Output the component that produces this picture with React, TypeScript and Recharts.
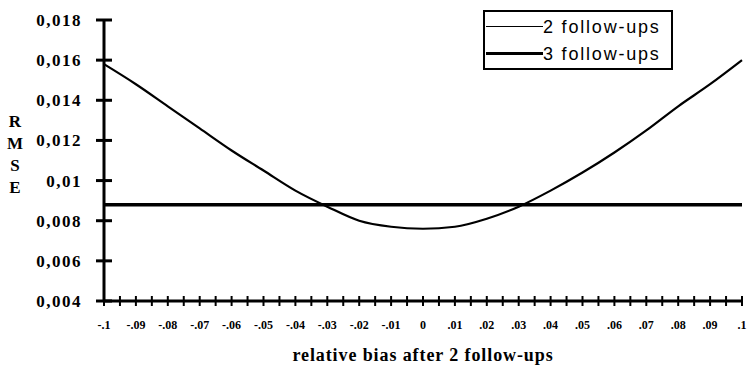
import React from "react";
import { LineChart, Line, XAxis, YAxis, Legend } from "recharts";

const bias = [-0.1, -0.09, -0.08, -0.07, -0.06, -0.05, -0.04, -0.03, -0.02, -0.01, 0, 0.01, 0.02, 0.03, 0.04, 0.05, 0.06, 0.07, 0.08, 0.09, 0.1];
const biasLabels = ["-.1", "-.09", "-.08", "-.07", "-.06", "-.05", "-.04", "-.03", "-.02", "-.01", "0", ".01", ".02", ".03", ".04", ".05", ".06", ".07", ".08", ".09", ".1"];
const rmse2 = [0.0158, 0.0148, 0.0137, 0.0126, 0.0115, 0.0105, 0.0095, 0.0087, 0.008, 0.0077, 0.0076, 0.0077, 0.0081, 0.0087, 0.0095, 0.0104, 0.0114, 0.0125, 0.0137, 0.0148, 0.016];
const rmse3 = [0.0088, 0.0088, 0.0088, 0.0088, 0.0088, 0.0088, 0.0088, 0.0088, 0.0088, 0.0088, 0.0088, 0.0088, 0.0088, 0.0088, 0.0088, 0.0088, 0.0088, 0.0088, 0.0088, 0.0088, 0.0088];
const yTicks = [0.004, 0.006, 0.008, 0.01, 0.012, 0.014, 0.016, 0.018];

const data = bias.map((b, i) => ({ bias: b, two: rmse2[i], three: rmse3[i] }));

// minor ticks halfway between the labelled ones
const xTicks: number[] = [];
bias.forEach((b, i) => {
  xTicks.push(b);
  if (i < bias.length - 1) xTicks.push(Math.round(((b + bias[i + 1]) / 2) * 1000) / 1000);
});

const serif = "'Liberation Serif', 'DejaVu Serif', serif";
const sans = "'Liberation Sans', Arial, sans-serif";

const XTick = (props: any) => {
  const { x, y, payload } = props;
  const idx = bias.findIndex((b) => Math.abs(b - payload.value) < 1e-9);
  return (
    <g>
      <line x1={x} x2={x} y1={y - 5} y2={y + 5} stroke="#000" strokeWidth={2} />
      {idx >= 0 && (
        <text x={x} y={y + 28} textAnchor="middle" fontFamily={serif} fontWeight="bold" fontSize={12} fill="#000">
          {biasLabels[idx]}
        </text>
      )}
    </g>
  );
};

const YTick = (props: any) => {
  const { x, y, payload } = props;
  return (
    <g>
      <line x1={x - 8} x2={x + 8} y1={y} y2={y} stroke="#000" strokeWidth={3} />
      <text x={x - 22} y={y + 6} textAnchor="end" fontFamily={serif} fontWeight="bold" fontSize={17} letterSpacing={1.5} fill="#000">
        {String(payload.value).replace(".", ",")}
      </text>
    </g>
  );
};

const LegendBox = () => (
  <div
    style={{
      border: "2px solid #000",
      width: 190,
      height: 60,
      background: "#fff",
      fontFamily: sans,
      fontSize: 18,
      letterSpacing: 1.8,
      color: "#000",
      boxSizing: "border-box",
      padding: "1px 0 0 1px",
      lineHeight: 1,
    }}
  >
    <div style={{ display: "flex", alignItems: "center", height: 27 }}>
      <span style={{ display: "inline-block", width: 57, borderTop: "1.5px solid #000" }} />
      <span>2 follow-ups</span>
    </div>
    <div style={{ display: "flex", alignItems: "center", height: 27 }}>
      <span style={{ display: "inline-block", width: 57, borderTop: "3.5px solid #000" }} />
      <span>3 follow-ups</span>
    </div>
  </div>
);

export default function App() {
  return (
    <div style={{ position: "absolute", left: 0, top: 0, width: 748, height: 366, background: "#fff" }}>
      <LineChart width={748} height={366} data={data} margin={{ top: 20, right: 6, bottom: 0, left: 0 }}>
        <XAxis
          dataKey="bias"
          type="number"
          domain={[-0.1, 0.1]}
          ticks={xTicks}
          interval={0}
          tick={<XTick />}
          tickLine={false}
          tickSize={0}
          tickMargin={0}
          height={65}
          axisLine={{ stroke: "#000", strokeWidth: 3 }}
          label={{
            value: "relative bias after 2 follow-ups",
            position: "insideBottom",
            offset: 5,
            style: { fontFamily: serif, fontWeight: "bold", fontSize: 18, fill: "#000", letterSpacing: 0.9 },
          }}
        />
        <YAxis
          type="number"
          domain={[0.004, 0.018]}
          ticks={yTicks}
          interval={0}
          allowDataOverflow
          width={104}
          tick={<YTick />}
          tickLine={false}
          tickSize={0}
          tickMargin={0}
          axisLine={{ stroke: "#000", strokeWidth: 3 }}
          label={({ viewBox }: any) => (
            <text x={15} y={viewBox.y + 107} textAnchor="middle" fontFamily={serif} fontWeight="bold" fontSize={17} fill="#000">
              {["R", "M", "S", "E"].map((c, i) => (
                <tspan key={c} x={15} dy={i === 0 ? 0 : 22}>
                  {c}
                </tspan>
              ))}
            </text>
          )}
        />
        <Legend
          layout="vertical"
          align="center"
          verticalAlign="middle"
          content={<LegendBox />}
          wrapperStyle={{ position: "absolute", left: 483, top: 10, width: 190, height: 60 }}
        />
        <Line type="monotone" dataKey="two" stroke="#000" strokeWidth={2.2} dot={false} isAnimationActive={false} />
        <Line type="monotone" dataKey="three" stroke="#000" strokeWidth={3.5} dot={false} isAnimationActive={false} />
      </LineChart>
    </div>
  );
}
